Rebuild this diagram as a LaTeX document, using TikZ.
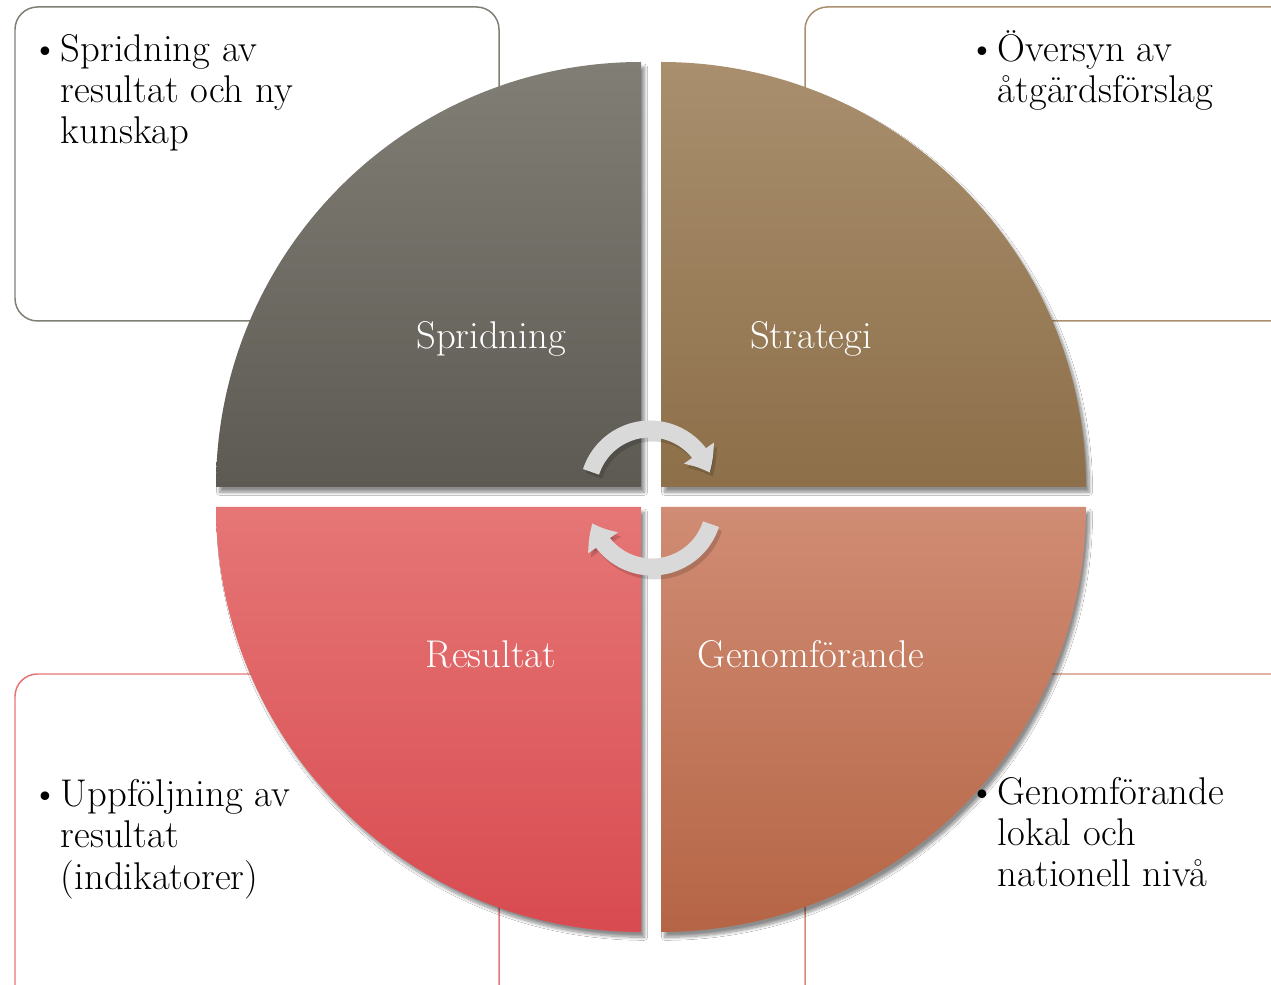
\documentclass[tikz,border=0pt]{standalone}
\usepackage{tikz}
\usetikzlibrary{arrows.meta}
\usetikzlibrary{bending}
\usetikzlibrary{shadows.blur}

\definecolor{sprtop}{HTML}{817E76}
\definecolor{sprbot}{HTML}{5C5A52}
\definecolor{strtop}{HTML}{A98F6E}
\definecolor{strbot}{HTML}{8D6F49}
\definecolor{restop}{HTML}{E67676}
\definecolor{resbot}{HTML}{D84B50}
\definecolor{gentop}{HTML}{D08C74}
\definecolor{genbot}{HTML}{B56545}
\definecolor{cyclegray}{HTML}{D9D9D9}
\newcommand{\punkt}[1]{\textbullet\hspace{1pt}\begin{tabular}[t]{@{}l@{}}#1\end{tabular}}

\begin{document}
\begin{tikzpicture}[x=0.02cm, y=0.02cm,
    infobox/.style={rounded corners=0.45cm, line width=0.85pt, fill=white},
    quarter/.style={blur shadow={shadow xshift=2pt, shadow yshift=-3pt, shadow opacity=45, shadow blur steps=10}},
    quartertext/.style={text=white, font=\fontsize{22}{23.3}\selectfont, anchor=base, inner sep=0pt},
    boxtext/.style={font=\fontsize{22}{23.3}\selectfont, anchor=base west, inner sep=0pt},
    cyclearrow/.style={line width=0.34cm, draw=cyclegray, -{Triangle[bend, length=0.45cm, width=0.7cm]}},
    cycleshadow/.style={line width=0.34cm, draw=black, opacity=0.15, -{Triangle[bend, length=0.45cm, width=0.7cm]}}]
                  \useasboundingbox (0,0) rectangle (1271,984);
                  \clip (0,0) rectangle (1271,984);
                  \fill[white] (0,0) rectangle (1271,984);

                  \draw[infobox, draw=sprtop] (15,663) rectangle (499,977);
                  \draw[infobox, draw=strtop] (805,663) rectangle (1295,977);
                  \draw[infobox, draw=restop] (15,310) rectangle (499,-30);
                  \draw[infobox, draw=gentop] (805,310) rectangle (1295,-30);

                  \path[quarter, top color=sprtop, bottom color=sprbot] (641,497) -- (216,497) arc[start angle=180, end angle=90, radius=425] -- cycle;
                  \path[quarter, top color=strtop, bottom color=strbot] (661,497) -- (661,922) arc[start angle=90, end angle=0, radius=425] -- cycle;
                  \path[quarter, top color=restop, bottom color=resbot] (641,477) -- (216,477) arc[start angle=180, end angle=270, radius=425] -- cycle;
                  \path[quarter, top color=gentop, bottom color=genbot] (661,477) -- (1086,477) arc[start angle=0, end angle=-90, radius=425] -- cycle;

                  \node[quartertext] (spridning) at (491,635) {Spridning};
                  \node[quartertext] (strategi) at (811,635) {Strategi};
                  \node[quartertext] (resultat) at (491,316) {Resultat};
                  \node[quartertext] (genomforande) at (811,316) {Genomförande};

                  \draw[cycleshadow] (653,489) ++(162:62) arc[start angle=162, end angle=17, radius=62];
                  \draw[cyclearrow] (650,493) ++(162:62) arc[start angle=162, end angle=17, radius=62];
                  \draw[cycleshadow] (655,475) ++(-18:62) arc[start angle=-18, end angle=-163, radius=62];
                  \draw[cyclearrow] (652,479) ++(-18:62) arc[start angle=-18, end angle=-163, radius=62];

                  \node[boxtext] (spridningtext) at (31,922) {\punkt{Spridning av\\resultat och ny\\kunskap}};
                  \node[boxtext] (strategitext) at (968,922) {\punkt{Översyn av\\åtgärdsförslag}};
                  \node[boxtext] (resultattext) at (31,177) {\punkt{Uppföljning av\\resultat\\(indikatorer)}};
                  \node[boxtext] (genomforandetext) at (968,179) {\punkt{Genomförande\\lokal och\\nationell nivå}};
              \end{tikzpicture}
\end{document}
